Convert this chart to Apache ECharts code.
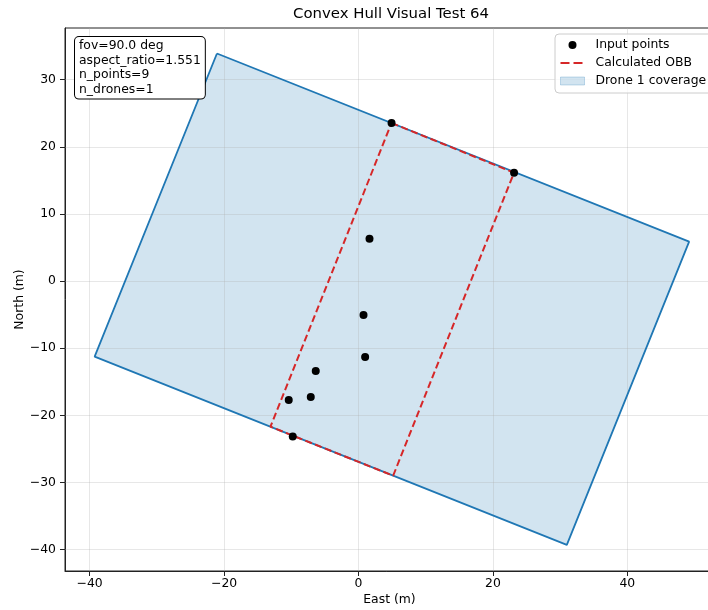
<!DOCTYPE html>
<html>
<head>
<meta charset="utf-8">
<script src="https://cdn.jsdelivr.net/npm/echarts@6/dist/echarts.min.js"></script>
<style>
html,body{margin:0;padding:0;background:#fff;}
#chart{width:708px;height:610px;}
</style>
</head>
<body>
<div id="chart"></div>
<script>
// ---- data ----
const pointsX = [4.92, 23.15, 1.64, 0.75, 0.99, -6.36, -7.10, -10.38, -9.78];
const pointsY = [23.55, 16.14, 6.30, -5.07, -11.33, -13.41, -17.29, -17.73, -23.15];
const obbX = [4.92, 23.15, 5.16, -13.10];
const obbY = [23.55, 16.14, -29.00, -21.70];
const coverageX = [-21.06, 49.20, 31.00, -39.26];
const coverageY = [33.90, 5.86, -39.30, -11.26];
const xTicks = [-40, -20, 0, 20, 40];
const yTicks = [-40, -30, -20, -10, 0, 10, 20, 30];
const infoLines = ['fov=90.0 deg', 'aspect_ratio=1.551', 'n_points=9', 'n_drones=1'];
const titleText = 'Convex Hull Visual Test 64';
const seriesNames = ['Input points', 'Calculated OBB', 'Drone 1 coverage'];

const FONT = "'DejaVu Sans', sans-serif";
const FS = 12.4;
const fmt = v => String(v).replace('-', '\u2212');
const closed = (xs, ys) => xs.map((x, i) => [x, ys[i]]).concat([[xs[0], ys[0]]]);

const chart = echarts.init(document.getElementById('chart'), null, {renderer: 'canvas'});
const option = {
  animation: false,
  backgroundColor: '#fff',
  title: {
    text: titleText, left: 391, top: 7, padding: 0, textAlign: 'center',
    textStyle: {fontFamily: FONT, fontSize: 14.9, fontWeight: 'normal', color: '#000'}
  },
  grid: {
    left: 65, top: 28, width: 649, height: 543, outerBoundsMode: 'none', containLabel: false,
    show: true, borderColor: '#222', borderWidth: 1, backgroundColor: 'transparent'
  },
  xAxis: {
    type: 'value', min: -43.67, max: 52.9,
    name: 'East (m)', nameLocation: 'middle', nameGap: 23, nameMoveOverlap: false,
    nameTextStyle: {fontFamily: FONT, fontSize: FS, color: '#000'},
    axisLine: {show: true, onZero: false, lineStyle: {color: '#222', width: 1}},
    axisTick: {show: true, customValues: xTicks, length: 5, inside: false, lineStyle: {color: '#222'}},
    axisLabel: {customValues: xTicks, formatter: fmt, color: '#000', fontSize: FS, fontFamily: FONT, margin: 7},
    splitLine: {show: false}
  },
  yAxis: {
    type: 'value', min: -43.2, max: 37.7,
    name: 'North (m)', nameLocation: 'middle', nameGap: 39, nameMoveOverlap: false,
    nameTextStyle: {fontFamily: FONT, fontSize: FS, color: '#000'},
    axisLine: {show: true, onZero: false, lineStyle: {color: '#222', width: 1}},
    axisTick: {show: true, customValues: yTicks, length: 5, inside: false, lineStyle: {color: '#222'}},
    axisLabel: {customValues: yTicks, formatter: fmt, color: '#000', fontSize: FS, fontFamily: FONT, margin: 9},
    splitLine: {show: false}
  },
  legend: {
    orient: 'vertical', left: 555, top: 34,
    padding: [4, 14, 5, 5],
    backgroundColor: 'rgba(255,255,255,0.8)', borderColor: '#cccccc', borderWidth: 1, borderRadius: 4,
    itemWidth: 24, itemHeight: 8, itemGap: 4,
    textStyle: {fontFamily: FONT, fontSize: FS, color: '#000', lineHeight: 14, padding: [0, 0, 0, 6]},
    data: [
      {name: seriesNames[0], icon: 'circle', itemStyle: {color: '#000', borderWidth: 0, opacity: 1}},
      {name: seriesNames[1], icon: 'path://M0,0h9v2h-9z M13,0h9v2h-9z M24,0', itemStyle: {color: '#d62728', borderWidth: 0}},
      {name: seriesNames[2], icon: 'rect', itemStyle: {color: 'rgba(31,119,180,0.2)', borderColor: 'rgba(31,119,180,0.25)', borderWidth: 1}}
    ],
    z: 20
  },
  graphic: [{
    type: 'text', left: 74, top: 36, z: 100,
    style: {
      text: infoLines.join('\n'), fontFamily: FONT, fontSize: FS, fill: '#000', lineHeight: 14.4,
      backgroundColor: '#fff', borderColor: '#000', borderWidth: 1, borderRadius: 4, padding: [2, 4, 2, 4]
    }
  }],
  series: [
    {
      name: seriesNames[2], type: 'custom', z: 1,
      itemStyle: {color: 'rgba(31,119,180,0.2)'},
      data: coverageX.map((x, i) => [x, coverageY[i]]),
      encode: {x: 0, y: 1},
      renderItem: function (params, api) {
        if (params.dataIndex !== 0) return null;
        const pts = coverageX.map((x, i) => api.coord([x, coverageY[i]]));
        return {type: 'polygon', shape: {points: pts}, style: {fill: 'rgba(31,119,180,0.2)'}};
      }
    },
    {
      name: '_grid', type: 'line', data: [], z: 2,
      markLine: {
        silent: true, symbol: ['none', 'none'], label: {show: false}, z: 2, animation: false,
        lineStyle: {color: 'rgba(176,176,176,0.3)', width: 1, type: 'solid'},
        emphasis: {disabled: true},
        data: xTicks.map(v => ({xAxis: v})).concat(yTicks.map(v => ({yAxis: v})))
      }
    },
    {
      name: seriesNames[2], type: 'line', z: 3, symbol: 'none',
      data: closed(coverageX, coverageY),
      lineStyle: {color: '#1f77b4', width: 1.8},
      itemStyle: {color: '#1f77b4'}
    },
    {
      name: seriesNames[1], type: 'line', z: 4, symbol: 'none',
      data: closed(obbX, obbY),
      lineStyle: {color: '#d62728', width: 2, type: [7, 3.5]},
      itemStyle: {color: '#d62728'}
    },
    {
      name: seriesNames[0], type: 'scatter', z: 5, symbolSize: 8,
      data: pointsX.map((x, i) => [x, pointsY[i]]),
      itemStyle: {color: '#000', opacity: 1}
    }
  ]
};
chart.setOption(option);
</script>
</body>
</html>
